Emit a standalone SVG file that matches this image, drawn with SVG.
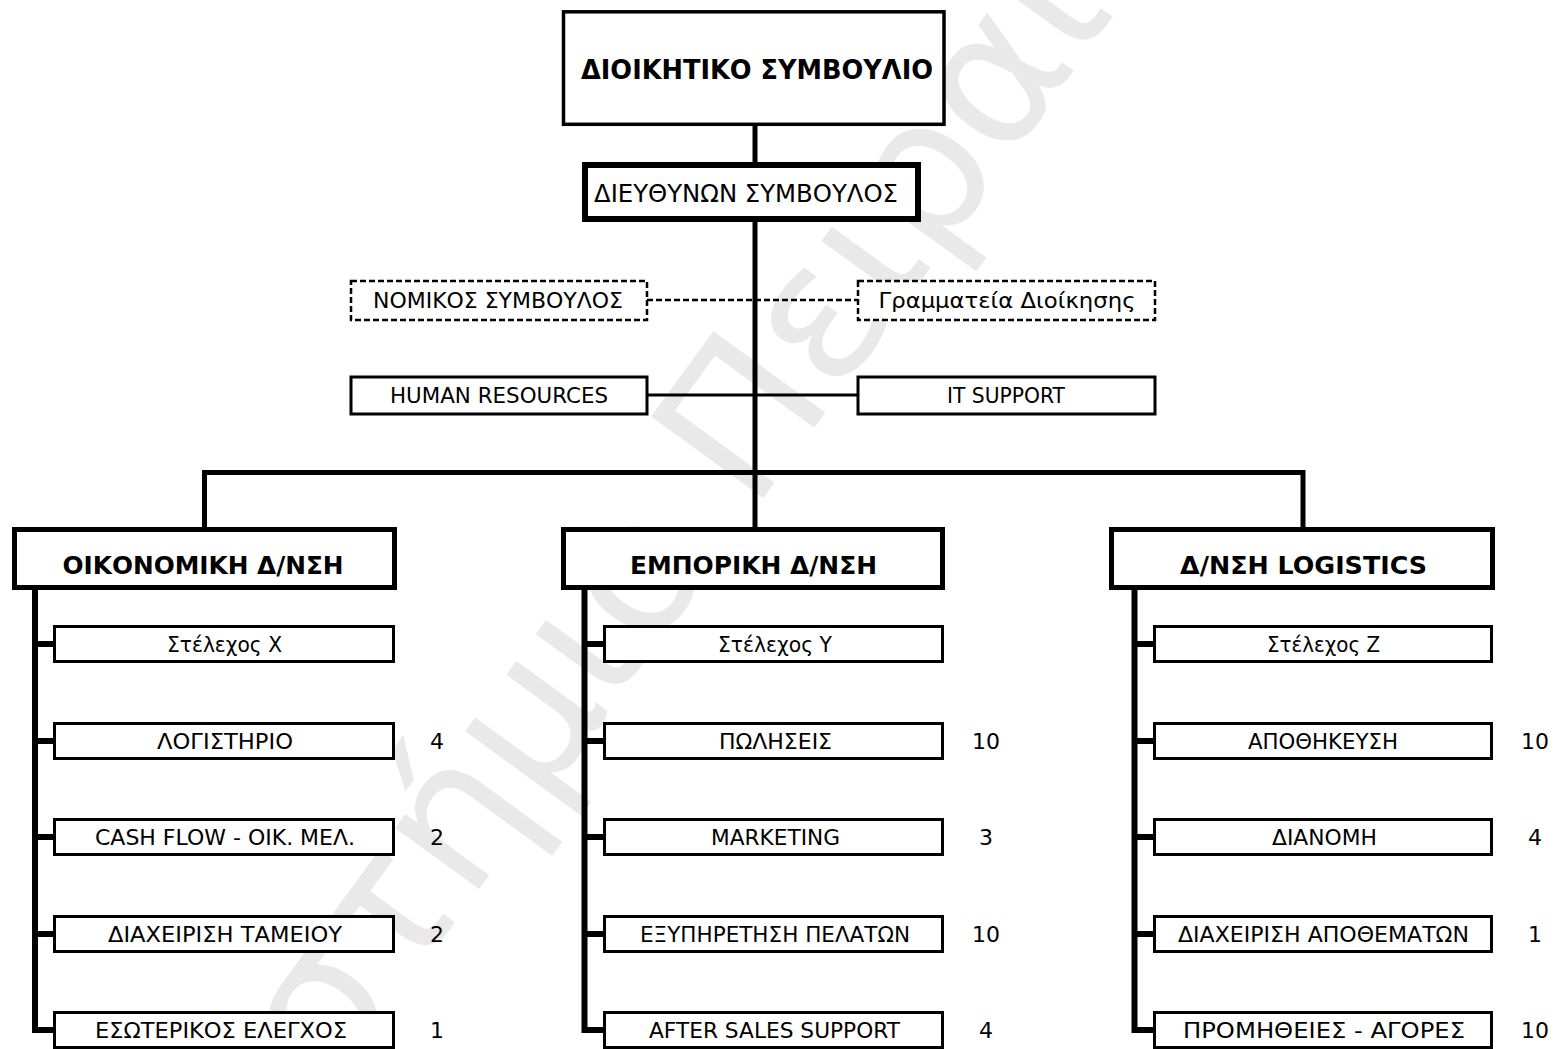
<svg xmlns="http://www.w3.org/2000/svg" width="1555" height="1049" viewBox="0 0 1555 1049">
<style>
  text { font-family: "DejaVu Sans", "Liberation Sans", sans-serif; fill: #000; }
  .t { font-size: 22px; text-anchor: middle; }
  .b { font-size: 23px; font-weight: bold; text-anchor: middle; }
  .n { font-size: 22px; text-anchor: middle; }
  .box { fill: #fff; stroke: #000; stroke-width: 3; }
  .dbox { fill: #fff; stroke: #000; stroke-width: 2.5; stroke-dasharray: 6 3; }
  .div { fill: #fff; stroke: #000; stroke-width: 5; }
  .ceo { fill: #fff; stroke: #000; stroke-width: 6; }
  .top { fill: #fff; stroke: #000; stroke-width: 3.5; }
  .thick { fill: none; stroke: #000; stroke-width: 5; }
  .side { fill: none; stroke: #000; stroke-width: 6; stroke-linejoin: miter; }
  .thin { fill: none; stroke: #000; stroke-width: 3; }
  .dash { fill: none; stroke: #000; stroke-width: 2.5; stroke-dasharray: 6 3; }
  .wm { font-size: 190px; fill: #e9e9e9; }
</style>
<rect width="1555" height="1049" fill="#fff"/>
<g id="watermark">
  <text class="wm" transform="translate(690,505) rotate(-54)" x="-30" y="55" text-anchor="end">Πανεπιστήμιο</text>
  <text class="wm" transform="translate(690,505) rotate(-54)" x="30" y="55">Πειραιώς</text>
</g>
<g id="connectors">
  <line class="thick" x1="755" y1="125" x2="755" y2="165"/>
  <line class="thick" x1="755" y1="219" x2="755" y2="528"/>
  <line class="dash" x1="647" y1="300" x2="858" y2="300"/>
  <line class="thin" x1="647" y1="395" x2="858" y2="395"/>
  <path class="thick" d="M204.5,528 V472.5 H1303 V528"/>
  <path class="side" d="M35,590 V1030 H54"/>
  <line class="side" x1="35" y1="644" x2="54" y2="644"/>
  <line class="side" x1="35" y1="741" x2="54" y2="741"/>
  <line class="side" x1="35" y1="837" x2="54" y2="837"/>
  <line class="side" x1="35" y1="934" x2="54" y2="934"/>
  <path class="side" d="M584.5,590 V1030 H604"/>
  <line class="side" x1="584.5" y1="644" x2="604" y2="644"/>
  <line class="side" x1="584.5" y1="741" x2="604" y2="741"/>
  <line class="side" x1="584.5" y1="837" x2="604" y2="837"/>
  <line class="side" x1="584.5" y1="934" x2="604" y2="934"/>
  <path class="side" d="M1134.5,590 V1030 H1154"/>
  <line class="side" x1="1134.5" y1="644" x2="1154" y2="644"/>
  <line class="side" x1="1134.5" y1="741" x2="1154" y2="741"/>
  <line class="side" x1="1134.5" y1="837" x2="1154" y2="837"/>
  <line class="side" x1="1134.5" y1="934" x2="1154" y2="934"/>
</g>
<g id="board">
  <rect class="top" x="563.5" y="11.8" width="380.5" height="112.5"/>
  <text class="b" x="757" y="79" textLength="352" lengthAdjust="spacingAndGlyphs" style="font-size:26px">ΔΙΟΙΚΗΤΙΚΟ ΣΥΜΒΟΥΛΙΟ</text>
</g>
<g id="ceo">
  <rect class="ceo" x="585" y="165" width="333" height="54"/>
  <text class="t" x="746" y="202" textLength="304" lengthAdjust="spacingAndGlyphs" style="font-size:25px">ΔΙΕΥΘΥΝΩΝ ΣΥΜΒΟΥΛΟΣ</text>
</g>
<g id="legal">
  <rect class="dbox" x="351" y="281" width="296" height="39"/>
  <text class="t" x="498" y="308" textLength="250" lengthAdjust="spacingAndGlyphs">ΝΟΜΙΚΟΣ ΣΥΜΒΟΥΛΟΣ</text>
</g>
<g id="secretariat">
  <rect class="dbox" x="858" y="281" width="297" height="39"/>
  <text class="t" x="1007" y="308" textLength="257" lengthAdjust="spacingAndGlyphs">Γραμματεία Διοίκησης</text>
</g>
<g id="hr">
  <rect class="box" x="351" y="377" width="296" height="37"/>
  <text class="t" x="499" y="403" textLength="218" lengthAdjust="spacingAndGlyphs">HUMAN RESOURCES</text>
</g>
<g id="it">
  <rect class="box" x="858" y="377" width="297" height="37"/>
  <text class="t" x="1006" y="403" textLength="118" lengthAdjust="spacingAndGlyphs">IT SUPPORT</text>
</g>
<g id="finance">
  <rect class="div" x="14.5" y="529.5" width="380" height="58"/>
  <text class="b" x="203" y="574" textLength="281" lengthAdjust="spacingAndGlyphs" style="font-size:24px">ΟΙΚΟΝΟΜΙΚΗ Δ/ΝΣΗ</text>
</g>
<g id="commercial">
  <rect class="div" x="563.5" y="529.5" width="379" height="58"/>
  <text class="b" x="753.5" y="574" textLength="247" lengthAdjust="spacingAndGlyphs" style="font-size:24px">ΕΜΠΟΡΙΚΗ Δ/ΝΣΗ</text>
</g>
<g id="logistics">
  <rect class="div" x="1111.5" y="529.5" width="381" height="58"/>
  <text class="b" x="1303.5" y="574" textLength="247" lengthAdjust="spacingAndGlyphs" style="font-size:24px">Δ/ΝΣΗ LOGISTICS</text>
</g>
<g id="f1"><rect class="box" x="54.5" y="626.5" width="339" height="35"/><text class="t" x="224.5" y="652" textLength="115" lengthAdjust="spacingAndGlyphs">Στέλεχος Χ</text></g>
<g id="f2"><rect class="box" x="54.5" y="723.5" width="339" height="35"/><text class="t" x="225" y="749" textLength="136" lengthAdjust="spacingAndGlyphs">ΛΟΓΙΣΤΗΡΙΟ</text><text class="n" x="437" y="749">4</text></g>
<g id="f3"><rect class="box" x="54.5" y="819.5" width="339" height="35"/><text class="t" x="225" y="845" textLength="260" lengthAdjust="spacingAndGlyphs">CASH FLOW - ΟΙΚ. ΜΕΛ.</text><text class="n" x="437" y="845">2</text></g>
<g id="f4"><rect class="box" x="54.5" y="916.5" width="339" height="35"/><text class="t" x="225" y="942" textLength="234" lengthAdjust="spacingAndGlyphs">ΔΙΑΧΕΙΡΙΣΗ ΤΑΜΕΙΟΥ</text><text class="n" x="437" y="942">2</text></g>
<g id="f5"><rect class="box" x="54.5" y="1012.5" width="339" height="35"/><text class="t" x="221" y="1038" textLength="252" lengthAdjust="spacingAndGlyphs">ΕΣΩΤΕΡΙΚΟΣ ΕΛΕΓΧΟΣ</text><text class="n" x="437" y="1038">1</text></g>
<g id="c1"><rect class="box" x="604.5" y="626.5" width="338" height="35"/><text class="t" x="775" y="652" textLength="114" lengthAdjust="spacingAndGlyphs">Στέλεχος Υ</text></g>
<g id="c2"><rect class="box" x="604.5" y="723.5" width="338" height="35"/><text class="t" x="775.5" y="749" textLength="113" lengthAdjust="spacingAndGlyphs">ΠΩΛΗΣΕΙΣ</text><text class="n" x="986" y="749">10</text></g>
<g id="c3"><rect class="box" x="604.5" y="819.5" width="338" height="35"/><text class="t" x="775.5" y="845" textLength="129" lengthAdjust="spacingAndGlyphs">MARKETING</text><text class="n" x="986" y="845">3</text></g>
<g id="c4"><rect class="box" x="604.5" y="916.5" width="338" height="35"/><text class="t" x="775" y="942" textLength="270" lengthAdjust="spacingAndGlyphs">ΕΞΥΠΗΡΕΤΗΣΗ ΠΕΛΑΤΩΝ</text><text class="n" x="986" y="942">10</text></g>
<g id="c5"><rect class="box" x="604.5" y="1012.5" width="338" height="35"/><text class="t" x="774.5" y="1038" textLength="251" lengthAdjust="spacingAndGlyphs">AFTER SALES SUPPORT</text><text class="n" x="986" y="1038">4</text></g>
<g id="l1"><rect class="box" x="1154.5" y="626.5" width="337" height="35"/><text class="t" x="1323.5" y="652" textLength="113" lengthAdjust="spacingAndGlyphs">Στέλεχος Ζ</text></g>
<g id="l2"><rect class="box" x="1154.5" y="723.5" width="337" height="35"/><text class="t" x="1323" y="749" textLength="150" lengthAdjust="spacingAndGlyphs">ΑΠΟΘΗΚΕΥΣΗ</text><text class="n" x="1535" y="749">10</text></g>
<g id="l3"><rect class="box" x="1154.5" y="819.5" width="337" height="35"/><text class="t" x="1324.5" y="845" textLength="105" lengthAdjust="spacingAndGlyphs">ΔΙΑΝΟΜΗ</text><text class="n" x="1535" y="845">4</text></g>
<g id="l4"><rect class="box" x="1154.5" y="916.5" width="337" height="35"/><text class="t" x="1323.5" y="942" textLength="291" lengthAdjust="spacingAndGlyphs">ΔΙΑΧΕΙΡΙΣΗ ΑΠΟΘΕΜΑΤΩΝ</text><text class="n" x="1535" y="942">1</text></g>
<g id="l5"><rect class="box" x="1154.5" y="1012.5" width="337" height="35"/><text class="t" x="1324" y="1038" textLength="282" lengthAdjust="spacingAndGlyphs">ΠΡΟΜΗΘΕΙΕΣ - ΑΓΟΡΕΣ</text><text class="n" x="1535" y="1038">10</text></g>
</svg>
